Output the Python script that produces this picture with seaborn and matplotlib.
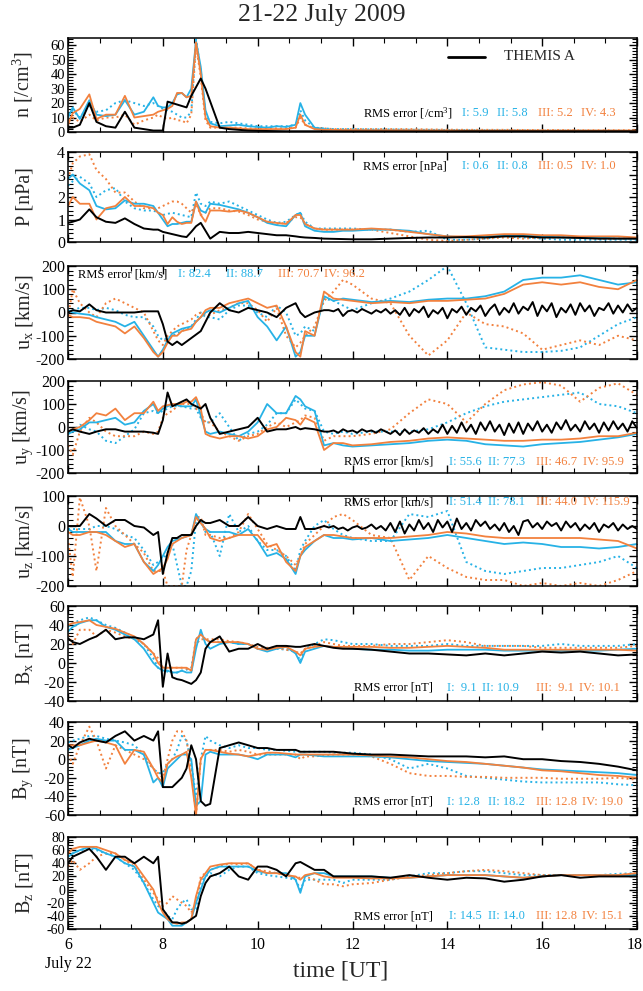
import numpy as np
import pandas as pd
import matplotlib
matplotlib.use("Agg")
import matplotlib.pyplot as plt
import matplotlib.transforms as mtransforms
import seaborn as sns
from matplotlib.ticker import MultipleLocator, AutoMinorLocator
from matplotlib.lines import Line2D

sns.set_theme(style="ticks")
plt.rcParams["font.family"] = ["Liberation Serif", "DejaVu Serif"]
plt.rcParams["mathtext.fontset"] = "custom"
plt.rcParams["mathtext.rm"] = "Liberation Serif"
plt.rcParams["mathtext.it"] = "Liberation Serif:italic"
plt.rcParams["axes.unicode_minus"] = False

BLUE = "#27b2e6"
ORANGE = "#f2813e"

hours = [6.0, 6.1, 6.25, 6.45, 6.6, 6.8, 7.0, 7.2, 7.4, 7.6,
         7.8, 7.9, 8.0, 8.1, 8.2, 8.3, 8.4, 8.5, 8.6, 8.7,
         8.8, 8.9, 9.0, 9.2, 9.4, 9.6, 9.8, 10.0, 10.2, 10.4,
         10.6, 10.8, 10.9, 11.0, 11.2, 11.4, 11.6, 11.8, 12.0, 12.4,
         12.8, 13.2, 13.6, 14.0, 14.4, 14.8, 15.2, 15.6, 16.0, 16.4,
         16.8, 17.2, 17.6, 18.0]

# finer time grid used for the (noisy) THEMIS velocity records
hours_themis_u = [6.0, 6.1, 6.25, 6.45, 6.6, 6.8, 7.0, 7.2, 7.4, 7.6,
                  7.8, 7.9, 8.0, 8.1, 8.2, 8.3, 8.4, 8.5, 8.6, 8.7,
                  8.8, 8.9, 9.0, 9.2, 9.4, 9.6, 9.8, 10.0, 10.2, 10.4,
                  10.6, 10.8, 10.9, 11.0, 11.2, 11.4,
                  11.5, 11.6, 11.7, 11.8, 11.9, 12.0, 12.1, 12.2, 12.3, 12.4,
                  12.5, 12.6, 12.7, 12.8, 12.9, 13.0, 13.1, 13.2, 13.3, 13.4,
                  13.5, 13.6, 13.7, 13.8, 13.9, 14.0, 14.1, 14.2, 14.3, 14.4,
                  14.5, 14.6, 14.7, 14.8, 14.9, 15.0, 15.1, 15.2, 15.3, 15.4,
                  15.5, 15.6, 15.7, 15.8, 15.9, 16.0, 16.1, 16.2, 16.3, 16.4,
                  16.5, 16.6, 16.7, 16.8, 16.9, 17.0, 17.1, 17.2, 17.3, 17.4,
                  17.5, 17.6, 17.7, 17.8, 17.9, 18.0]

# ---- density n ----
n_themis = [3, 3, 5, 20, 7, 4, 3, 14, 3, 2,
            1, 1, 1, 21, 20, 19, 18, 17, 25, 31,
            37, 30, 21, 3, 2, 1.5, 1, 0.8, 0.7, 0.6,
            0.5, 0.5, 0.5, 0.5, 0.5, 0.5, 0.4, 0.4, 0.4, 0.4,
            0.4, 0.4, 0.4, 0.4, 0.5, 0.5, 0.5, 0.5, 0.5, 0.5,
            0.5, 0.5, 0.5, 0.5]
n_I = [10, 17, 9, 22, 12, 11, 12, 22, 12, 14,
       24, 18, 17, 17, 20, 26, 27, 24, 30, 63,
       45, 15, 6, 4, 4.5, 5, 4, 3.5, 3, 4,
       3.5, 5, 20, 12, 3, 2, 1.5, 1.2, 1.2, 1.1,
       1.0, 1.0, 0.9, 0.9, 0.8, 0.8, 0.8, 0.7, 0.7, 0.7,
       0.6, 0.6, 0.5, 0.5]
n_II = [12, 15, 10, 18, 14, 15, 20, 22, 20, 18,
        20, 18, 16, 15, 14, 12, 10, 10, 14, 64,
        42, 12, 7, 6, 7, 6, 5, 4, 4, 4,
        4, 5, 15, 8, 3, 2.5, 2, 2, 2, 1.8,
        1.8, 1.6, 1.5, 1.4, 1.3, 1.2, 1.2, 1.1, 1.0, 1.0,
        1.0, 0.9, 0.9, 0.8]
n_III = [5, 13, 16, 26, 9, 12, 12, 25, 10, 11,
         12, 14, 15, 16, 18, 27, 27, 24, 25, 62,
         40, 10, 4, 3, 3, 2.5, 2, 2, 2, 2,
         2, 3, 12, 5, 2, 1.5, 1.5, 1.3, 1.3, 1.2,
         1.2, 1.2, 1.1, 1.1, 1.0, 1.0, 1.0, 1.0, 1.0, 1.0,
         1.0, 1.0, 1.0, 1.0]
n_IV = [8, 10, 7, 12, 8, 10, 10, 12, 5, 8,
        10, 12, 10, 9, 10, 8, 8, 6, 12, 60,
        38, 8, 3, 3, 3, 3, 2.5, 2.5, 2.5, 2.5,
        2.5, 3, 10, 5, 2.5, 2.5, 2, 2, 2, 2,
        2, 2, 1.8, 1.6, 1.5, 1.5, 1.5, 1.4, 1.3, 1.3,
        1.2, 1.2, 1.2, 1.2]

# ---- pressure P ----
p_themis = [0.85, 0.9, 1.0, 1.45, 1.1, 0.9, 0.85, 1.05, 0.8, 0.6,
            0.55, 0.55, 0.45, 0.4, 0.35, 0.3, 0.25, 0.22, 0.45, 0.7,
            0.85, 0.5, 0.15, 0.45, 0.4, 0.4, 0.45, 0.4, 0.35, 0.3,
            0.3, 0.25, 0.22, 0.2, 0.18, 0.15, 0.14, 0.13, 0.12, 0.12,
            0.15, 0.18, 0.2, 0.2, 0.22, 0.2, 0.25, 0.25, 0.2, 0.2,
            0.18, 0.15, 0.15, 0.15]
p_I = [2.8, 3.0, 2.6, 2.3, 1.6, 1.45, 1.5, 1.85, 1.7, 1.7,
       1.6, 1.3, 1.0, 0.7, 0.8, 0.8, 0.85, 0.9, 0.9, 1.8,
       1.4, 1.3, 1.7, 1.65, 1.55, 1.45, 1.3, 1.1, 0.85, 0.75,
       0.7, 1.2, 1.3, 0.7, 0.5, 0.45, 0.45, 0.5, 0.5, 0.55,
       0.55, 0.5, 0.35, 0.25, 0.2, 0.25, 0.3, 0.3, 0.25, 0.2,
       0.2, 0.2, 0.15, 0.15]
p_II = [2.5, 2.7, 2.9, 2.6, 2.0, 2.3, 2.4, 1.8, 1.5, 1.4,
        1.4, 1.3, 1.2, 1.25, 1.3, 1.25, 1.2, 1.15, 1.1, 2.2,
        1.7, 1.6, 1.8, 1.7, 1.8, 1.6, 1.4, 1.2, 1.0, 0.85,
        0.9, 1.2, 1.3, 0.9, 0.6, 0.6, 0.6, 0.6, 0.6, 0.55,
        0.55, 0.45, 0.5, 0.1, 0.1, 0.15, 0.25, 0.2, 0.15, 0.1,
        0.1, 0.1, 0.1, 0.1]
p_III = [1.6, 2.0, 1.7, 1.7, 1.0, 1.5, 1.6, 2.0, 1.6, 1.6,
         1.5, 1.3, 1.2, 0.8, 1.1, 0.9, 0.8, 0.85, 0.85, 1.8,
         1.2, 0.9, 1.4, 1.4, 1.35, 1.4, 1.3, 1.1, 0.9, 0.85,
         0.8, 1.2, 1.2, 0.8, 0.6, 0.55, 0.55, 0.55, 0.55, 0.6,
         0.55, 0.45, 0.35, 0.25, 0.25, 0.3, 0.35, 0.35, 0.3, 0.3,
         0.25, 0.25, 0.25, 0.2]
p_IV = [2.8, 3.5, 3.8, 3.9, 3.2, 2.8, 2.2, 2.2, 1.8, 1.5,
        1.5, 1.5, 1.6, 1.7, 1.8, 1.8, 1.7, 1.5, 1.3, 1.7,
        1.2, 1.3, 1.5, 1.5, 1.4, 1.35, 1.2, 1.0, 0.9, 0.8,
        0.85, 1.1, 1.1, 0.8, 0.6, 0.55, 0.55, 0.55, 0.55, 0.55,
        0.4, 0.25, 0.1, 0.05, 0.1, 0.15, 0.2, 0.15, 0.2, 0.2,
        0.2, 0.15, 0.15, 0.15]

# ---- ux ----
ux_themis = [0, 10, 5, 35, 10, 0, 0, 0, 0, 5,
             5, 5, -50, -125, -140, -125, -140, -125, -110, -95,
             -80, -40, 0, 40, 10, 0, 20, 10, 0, -20,
             20, 40, 0, -20, 0, 10,
             10, 5, 15, -15, 5, 10, 0, 15, 5, -5,
             10, 0, 15, -5, 10, -10, 20, -15, 15, 0,
             25, -20, 10, -5, 20, -25, 15, 0, 25, -10,
             20, 5, 30, -15, 15, 35, -10, 20, 0, 40,
             -5, 25, 10, 45, -15, 30, 5, 40, -20, 20,
             0, 35, -10, 40, 5, 30, -15, 20, 10, 40,
             -5, 30, 0, 35, 5, 20]
ux_I = [10, 0, -5, -10, -20, -30, -40, -60, -40, -100,
        -160, -190, -160, -120, -90, -80, -70, -65, -60, -40,
        -20, 0, 10, 0, 20, 40, 50, -20, -60, -120,
        -60, -190, -170, -100, -100, 70, 50, 60, 55, 45,
        50, 45, 55, 60, 60, 70, 90, 140, 150, 150,
        160, 140, 120, 130]
ux_II = [0, 10, 20, 20, 10, 20, 10, -10, -20, -20,
         -60, -100, -120, -110, -100, -90, -80, -70, -60, -30,
         0, -20, -20, -30, 10, 30, 30, 0, -20, 30,
         0, -100, -90, -60, -80, 60, 50, 30, 10, 40,
         60, 90, 140, 200, 40, -150, -160, -170, -170, -165,
         -150, -100, -50, -20]
ux_III = [-10, -20, -20, -25, -40, -50, -60, -90, -60, -110,
          -170, -190, -170, -130, -100, -100, -80, -75, -70, -40,
          -20, 10, 20, 20, 40, 50, 60, 40, 20, 30,
          -60, -170, -190, -80, -100, 90, 60, 55, 50, 40,
          45, 40, 50, 50, 55, 60, 80, 120, 130, 120,
          130, 110, 100, 140]
ux_IV = [-20, 100, 40, 0, -20, 40, 60, 40, 20, 0,
         -80, -120, -140, -100, -80, -60, -50, -40, -30, -10,
         0, -10, -10, 10, 20, 40, 40, 10, -40, 20,
         -100, -150, -130, -100, -60, 50, 90, 140, 120, 60,
         40, -100, -185, -120, 0, -50, -60, -90, -160, -140,
         -120, -140, -100, -120]

# ---- uy ----
uy_themis = [-20, -10, -20, -30, -20, -10, -10, -20, -20, -20,
             -25, -30, 30, 150, 90, 100, 110, 120, 100, 90,
             80, 100, 40, -30, -20, -10, 0, 40, -20, -10,
             -10, 0, -10, -5, -10, -20,
             -20, -15, -25, -10, -20, -15, -25, -10, -20, -15,
             -25, -10, -20, -30, -15, -35, -10, -30, -15, -25,
             -5, -30, -10, -25, 10, -30, 5, -25, 20, -20,
             10, -30, 20, -15, 25, -20, 10, -35, 15, -25,
             20, -30, 15, -15, 25, -20, 10, -25, 20, -10,
             30, -15, 10, -20, 25, -10, 15, -25, 20, -15,
             25, -10, 15, -20, 25, -5]
uy_I = [-30, -20, -10, 20, 20, 30, 40, 10, 20, 70,
        100, 60, 80, 90, 100, 95, 90, 90, 90, 120,
        50, -20, -30, -20, -30, -40, -20, 20, 100, 60,
        60, 135, 120, 90, 70, -80, -70, -80, -85, -80,
        -75, -70, -60, -55, -60, -75, -80, -85, -75, -70,
        -65, -55, -45, -30]
uy_II = [-30, -20, 10, -10, -20, -60, -70, -40, -10, 60,
         70, 60, 70, 80, 90, 90, 90, 85, 80, 80,
         40, 20, 20, 60, 0, -60, -30, -20, 10, 60,
         60, 120, 100, 80, 70, -20, -30, -20, -30, -20,
         -20, -20, -10, 20, 60, 90, 110, 120, 130, 140,
         150, 100, 90, 60]
uy_III = [-20, -10, 0, 30, 60, 50, 80, 30, 60, 60,
          110, 70, 90, 95, 100, 100, 100, 110, 110, 130,
          80, -30, -40, -50, -40, -40, -50, -40, -10, 0,
          40, 30, 10, 40, 20, -100, -70, -70, -80, -75,
          -65, -60, -50, -45, -50, -55, -60, -60, -55, -55,
          -50, -40, -40, -25]
uy_IV = [-80, -120, -20, 40, 20, -20, -40, -40, -40, -20,
         -30, -20, 40, 60, 70, 90, 100, 100, 100, 80,
         60, 20, 20, -20, -40, -60, -40, -30, 0, 20,
         0, 20, 30, 50, 40, -60, -40, -40, -40, -30,
         -10, 60, 120, 100, 20, 100, 160, 185, 195, 180,
         110, 170, 190, 140]

# ---- uz ----
uz_themis = [0, 0, 0, 40, 25, 0, 20, 20, 0, -5,
             -30, -20, -160, -90, -40, -40, -30, -30, -30, 0,
             20, 10, 10, 20, 0, 0, 30, 0, -10, 0,
             -10, -10, 30, -10, -10, 0,
             -5, 0, -10, -5, -15, -5, 0, -10, -5, 5,
             -10, 0, -15, 10, -20, 15, -25, 5, -15, 20,
             -10, 10, -20, 20, -5, 15, -20, 25, -10, 10,
             -15, 20, 0, 15, -10, 5, -15, 10, -20, 0,
             -30, 15, 20, -5, 10, -10, 15, 0, 10, -15,
             15, -5, 10, -15, 5, -10, 10, -20, 5, -5,
             10, -15, 5, -10, 0, -10]
uz_I = [-10, -20, -20, -20, -20, -20, -50, -60, -60, -120,
        -150, -130, -100, -70, -50, -45, -40, -35, -30, 40,
        10, -10, -20, -20, -20, -30, -10, -50, -100, -90,
        -110, -160, -100, -80, -50, -30, -40, -40, -45, -40,
        -50, -45, -40, -30, -40, -50, -60, -55, -60, -70,
        -70, -75, -70, -60]
uz_II = [-10, -10, -10, -10, 0, 0, -10, -30, -40, -80,
         -130, -120, -110, -90, -60, -130, -200, -200, -150, 20,
         20, -20, -20, -100, 40, -20, 0, -50, -80, -80,
         -100, -150, -80, -50, 0, 20, -10, -30, -40, -50,
         -50, 40, 30, 50, -120, -150, -160, -150, -140, -140,
         -130, -120, -100, -140]
uz_III = [-20, -30, -30, -20, -20, -30, -50, -70, -60, -120,
          -160, -150, -140, -110, -60, -50, -40, -35, -30, 30,
          10, -10, -40, -50, -40, -30, -30, -30, -70, -60,
          -120, -150, -100, -70, -50, -30, -30, -35, -40, -40,
          -40, -35, -30, -20, -25, -35, -40, -40, -40, -40,
          -40, -45, -50, -75]
uz_IV = [-40, -170, 95, 0, -150, 60, 0, -30, -60, -90,
         -150, -150, -150, -200, -200, -200, -200, -80, -30, 30,
         30, -30, -30, -40, -40, -20, 40, -10, -60, -80,
         -100, -130, -100, -60, -30, 0, 30, 40, 20, -30,
         -40, -180, -100, -140, -170, -180, -180, -200, -190, -200,
         -190, -200, -180, -150]

# ---- Bx ----
bx_themis = [26, 22, 20, 25, 28, 35, 25, 27, 27, 25,
             30, 45, -25, 10, -15, -17, -18, -20, -22, -18,
             -10, 15, 22, 28, 12, 15, 15, 20, 15, 18,
             18, 17, 17, 18, 20, 18, 16, 15, 15, 14,
             12, 10, 10, 9, 8, 10, 8, 10, 12, 11,
             12, 10, 8, 9]
bx_I = [33, 38, 42, 45, 45, 38, 35, 30, 25, 15,
        0, -5, -8, -8, -10, -10, -8, -10, -10, 15,
        35, 20, 15, 20, 22, 20, 20, 15, 12, 15,
        17, 10, 0, 12, 15, 18, 17, 16, 15, 14,
        14, 13, 13, 14, 14, 14, 13, 13, 13, 13,
        13, 13, 14, 15]
bx_II = [38, 42, 45, 48, 45, 40, 37, 32, 27, 20,
         5, -5, -8, -9, -10, -10, -8, -7, -5, 25,
         30, 25, 22, 22, 22, 20, 20, 15, 15, 15,
         14, 12, 2, 15, 20, 25, 24, 22, 20, 20,
         18, 18, 18, 20, 18, 18, 18, 18, 18, 20,
         18, 18, 18, 20]
bx_III = [40, 42, 43, 45, 40, 38, 36, 32, 28, 20,
          10, 0, -5, -5, -5, -5, -5, -5, -8, 25,
          30, 25, 22, 22, 22, 22, 20, 15, 14, 16,
          17, 12, 8, 15, 17, 18, 17, 17, 17, 17,
          16, 16, 17, 18, 17, 16, 14, 14, 14, 14,
          14, 14, 14, 13]
bx_IV = [30, 20, 35, 35, 28, 35, 32, 28, 25, 20,
         10, 5, -5, -5, -5, -5, -5, -6, -8, 20,
         25, 25, 25, 25, 23, 22, 20, 17, 16, 16,
         14, 12, 10, 15, 18, 22, 20, 18, 18, 18,
         20, 20, 22, 24, 22, 18, 18, 18, 16, 16,
         16, 16, 16, 18]

# ---- By ----
by_themis = [15, 12, 18, 22, 20, 18, 25, 30, 20, 25,
             20, 30, -30, -30, -30, -25, -20, -10, 15, 0,
             -45, -50, -48, 12, 15, 18, 15, 12, 12, 10,
             10, 10, 8, 8, 8, 8, 8, 7, 6, 5,
             5, 4, 3, 3, 3, 2, 3, 0, 0, -2,
             -3, -5, -8, -12]
by_I = [10, 12, 15, 20, 22, 20, 20, 10, 10, 5,
        -25, -20, -30, -10, -5, 0, 5, 5, 0, -50,
        -45, 5, 8, 5, 5, 5, 3, 0, 5, 5,
        5, 2, 5, 5, 4, 3, 3, 3, 3, 3,
        2, 0, -2, -3, -4, -5, -7, -9, -11, -12,
        -13, -14, -15, -17]
by_II = [18, 20, 22, 25, 25, 22, 20, 18, 15, 5,
         -10, -15, -15, -5, 0, 10, 25, 20, -5, -40,
         0, 25, 20, 15, 12, 15, 12, 12, 10, 10,
         9, 8, 8, 8, 8, 8, 7, 7, 7, 5,
         0, -10, -5, -10, -18, -20, -22, -24, -25, -25,
         -25, -25, -27, -28]
by_III = [15, 15, 15, 18, 20, 18, 15, -5, 10, 8,
          -10, -20, -25, -5, 0, 3, 5, 8, -20, -60,
          0, 10, 10, 8, 6, 5, 3, 5, 7, 7,
          6, 5, 5, 5, 5, 5, 5, 5, 5, 4,
          3, 2, 0, -2, -3, -5, -7, -9, -12, -13,
          -15, -17, -18, -20]
by_IV = [5, -5, 15, 35, 20, -10, 15, 10, 5, 0,
         -10, -15, -20, 0, 20, 30, 30, 20, -10, -60,
         0, 10, 10, 10, 8, 10, 8, 5, 5, 5,
         5, 5, 0, 3, 3, 4, 5, 5, 5, 3,
         -5, -15, -18, -18, -19, -19, -20, -20, -20, -21,
         -21, -21, -20, -22]

# ---- Bz ----
bz_themis = [40, 50, 55, 62, 50, 30, 50, 50, 40, 50,
             40, 50, -30, -40, -50, -50, -52, -50, -45, -40,
             -10, 10, 20, 25, 35, 20, 15, 35, 35, 30,
             20, 40, 42, 38, 30, 30, 20, 20, 20, 20,
             18, 22, 18, 15, 18, 17, 12, 15, 20, 22,
             18, 20, 20, 20]
bz_I = [50, 55, 60, 65, 62, 55, 50, 40, 35, 10,
        -20, -35, -40, -45, -55, -55, -55, -50, -45, -20,
        0, 20, 30, 35, 35, 35, 35, 28, 25, 25,
        25, 15, -5, 20, 25, 25, 20, 20, 20, 20,
        18, 18, 20, 22, 22, 22, 20, 18, 20, 22,
        22, 22, 22, 22]
bz_II = [50, 55, 60, 62, 60, 55, 50, 40, 30, 10,
         -15, -25, -30, -40, -45, -30, -20, -15, -30, -30,
         10, 20, 25, 20, 30, 35, 35, 25, 22, 20,
         18, 15, 0, 15, 15, 15, 15, 10, 15, 15,
         15, 20, 25, 25, 28, 28, 25, 22, 22, 22,
         22, 22, 24, 25]
bz_III = [55, 62, 65, 65, 65, 60, 55, 45, 40, 20,
          0, -20, -35, -45, -50, -52, -50, -50, -45, -10,
          15, 25, 35, 38, 40, 40, 40, 30, 25, 25,
          22, 20, 15, 22, 25, 20, 18, 18, 18, 17,
          17, 18, 20, 22, 22, 22, 20, 18, 20, 22,
          22, 22, 22, 25]
bz_IV = [35, 45, 30, 40, 50, 55, 55, 45, 35, 15,
         -5, -15, -25, -20, -10, -15, -20, -25, -35, -20,
         20, 25, 30, 35, 40, 38, 40, 30, 28, 25,
         22, 18, 18, 20, 15, 8, 8, 5, 8, 10,
         15, 20, 22, 25, 28, 30, 28, 25, 22, 22,
         22, 22, 22, 25]

# ---- labels / RMS numbers ----
ylabels = ["n [/cm$^3$]", "P [nPa]", "u$_\\mathrm{x}$ [km/s]", "u$_\\mathrm{y}$ [km/s]",
           "u$_\\mathrm{z}$ [km/s]", "B$_\\mathrm{x}$ [nT]", "B$_\\mathrm{y}$ [nT]", "B$_\\mathrm{z}$ [nT]"]
rms_units = ["[/cm$^3$]", "[nPa]", "[km/s]", "[km/s]", "[km/s]", "[nT]", "[nT]", "[nT]"]
rms_I = ["5.9", "0.6", "82.4", "55.6", "51.4", " 9.1", "12.8", "14.5"]
rms_II = ["5.8", "0.8", "88.7", "77.3", "78.1", "10.9", "18.2", "14.0"]
rms_III = ["5.2", "0.5", "70.7", "46.7", "44.0", " 9.1", "12.8", "12.8"]
rms_IV = ["4.3", "1.0", "96.2", "95.9", "115.9", "10.1", "19.0", "15.1"]
ylims = [(0, 65), (0, 4), (-200, 200), (-200, 200), (-200, 100), (-40, 60), (-60, 40), (-60, 80)]
ymajor = [10, 1, 100, 100, 100, 20, 20, 20]
tick_fs = [10.5, 11.5, 11.5, 11.5, 11.5, 11.5, 11.5, 10]

H_ = hours
HU = hours_themis_u
series = [
    [(H_, n_themis), (H_, n_I), (H_, n_II), (H_, n_III), (H_, n_IV)],
    [(H_, p_themis), (H_, p_I), (H_, p_II), (H_, p_III), (H_, p_IV)],
    [(HU, ux_themis), (H_, ux_I), (H_, ux_II), (H_, ux_III), (H_, ux_IV)],
    [(HU, uy_themis), (H_, uy_I), (H_, uy_II), (H_, uy_III), (H_, uy_IV)],
    [(HU, uz_themis), (H_, uz_I), (H_, uz_II), (H_, uz_III), (H_, uz_IV)],
    [(H_, bx_themis), (H_, bx_I), (H_, bx_II), (H_, bx_III), (H_, bx_IV)],
    [(H_, by_themis), (H_, by_I), (H_, by_II), (H_, by_III), (H_, by_IV)],
    [(H_, bz_themis), (H_, bz_I), (H_, bz_II), (H_, bz_III), (H_, bz_IV)],
]

# layout (pixel top/bottom of each panel) and RMS text placement
W, H = 643, 991
panel_px = [(38, 132), (152, 242), (266, 359), (381, 473), (496, 586), (606, 701), (722, 815), (837, 929)]
X0, X1 = 68, 637
rms_x = [(363, 462, 497, 538, 581), (363, 462, 497, 538, 581), (78, 178, 226, 278, 319),
         (344, 449, 488, 536, 583), (344, 449, 488, 536, 583), (354, 447, 482, 536, 579),
         (354, 447, 488, 536, 581), (354, 449, 488, 536, 581)]
rms_y = [0.20, 0.84, 0.91, 0.12, 0.93, 0.14, 0.14, 0.14]

names = ["THEMIS A", "I", "II", "III", "IV"]
order = ["II", "IV", "I", "III", "THEMIS A"]
palette = {"THEMIS A": "black", "I": BLUE, "II": BLUE, "III": ORANGE, "IV": ORANGE}
dashes = {"THEMIS A": "", "I": "", "III": "", "II": (1, 1.6), "IV": (1, 1.6)}
sizes = {"THEMIS A": 1.4, "I": 1.3, "III": 1.3, "II": 1.4, "IV": 1.4}

fig = plt.figure(figsize=(W / 100, H / 100), dpi=100)
renderer = fig.canvas.get_renderer()
RMS_FS = 9

for k in range(8):
    top, bot = panel_px[k]
    ax = fig.add_axes([X0 / W, 1 - bot / H, (X1 - X0) / W, (bot - top) / H])
    frames = [pd.DataFrame({"time": t, "value": vals, "model": nm})
              for nm, (t, vals) in zip(names, series[k])]
    df = pd.concat(frames, ignore_index=True)
    sns.lineplot(data=df, x="time", y="value", hue="model", style="model", size="model",
                 hue_order=order, style_order=order, size_order=order,
                 palette=palette, dashes=dashes, sizes=sizes,
                 estimator=None, sort=False, legend=False, ax=ax)
    ax.set_xlim(6, 18)
    ax.set_ylim(*ylims[k])
    ax.xaxis.set_major_locator(MultipleLocator(2))
    ax.xaxis.set_minor_locator(MultipleLocator(2 / 3))
    ax.yaxis.set_major_locator(MultipleLocator(ymajor[k]))
    ax.yaxis.set_minor_locator(AutoMinorLocator(5))
    ax.tick_params(which="both", direction="in", top=True, right=True, labelsize=tick_fs[k],
                   colors="black", pad=2)
    ax.tick_params(which="major", length=6, width=1.0)
    ax.tick_params(which="minor", length=3.5, width=0.8)
    for sp in ax.spines.values():
        sp.set_linewidth(1.1)
        sp.set_color("black")
    ax.set_xlabel("")
    ax.set_ylabel(ylabels[k], fontsize=14.5)
    ax.yaxis.set_label_coords(-0.058, 0.5)
    if k < 7:
        ax.tick_params(labelbottom=False)
    else:
        ax.set_xticks([6, 8, 10, 12, 14, 16, 18],
                      labels=["6\nJuly 22", "8", "10", "12", "14", "16", "18"])
        ax.tick_params(axis="x", pad=6, labelsize=11.5)
        last = ax.get_xticklabels()[-1]
        last.set_ha("right")
        last.set_transform(last.get_transform() +
                           mtransforms.ScaledTranslation(4 / 72, 0, fig.dpi_scale_trans))

    # RMS annotation: segments placed at reference x, pushed right if they would collide
    ypx = bot - rms_y[k] * (bot - top)
    segs = [("RMS error " + rms_units[k], "black"), ("I: " + rms_I[k], BLUE),
            ("II: " + rms_II[k], BLUE), ("III: " + rms_III[k], ORANGE),
            ("IV: " + rms_IV[k], ORANGE)]
    prev_end = -1e9
    for xpx, (txt, col) in zip(rms_x[k], segs):
        x = max(xpx, prev_end + 5)
        t = fig.text(x / W, 1 - ypx / H, txt, fontsize=RMS_FS, color=col,
                     va="center", ha="left")
        prev_end = t.get_window_extent(renderer).x1

    if k == 0:
        ax.add_line(Line2D([0.668, 0.733], [0.80, 0.80], transform=ax.transAxes,
                           color="black", lw=2.0))
        ax.text(0.767, 0.80, "THEMIS A", transform=ax.transAxes, fontsize=11,
                va="center", ha="left")

fig.text(0.5, 1 - 15 / H, "21-22 July 2009", ha="center", va="center", fontsize=18.5)
fig.text(341 / W, 1 - 971 / H, "time [UT]", ha="center", va="center", fontsize=17)

fig.savefig("out.png", dpi=100)
